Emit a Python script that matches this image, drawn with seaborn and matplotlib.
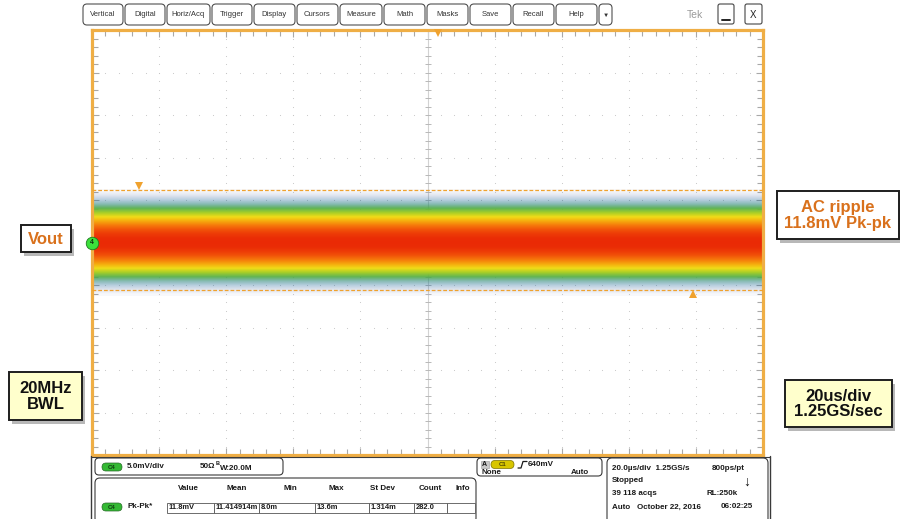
import numpy as np
import matplotlib
matplotlib.use("Agg")
import matplotlib.pyplot as plt
import seaborn as sns
import pandas as pd
from matplotlib.patches import FancyBboxPatch, Rectangle
from matplotlib.colors import LinearSegmentedColormap
from matplotlib import transforms

# ---- scope settings -------------------------------------------------------
time_per_div_us = 20.0
volts_per_div_mv = 5.0
n_div = 10

# ---- C4 persistence profile: relative hit density at each level (mV) -------
trace_level_mv = [-6.0, -5.5, -5.0, -4.5, -4.0, -3.5, -3.0, -2.5, -2.0, -1.5, -1.0, -0.5,
                  0.0, 0.5, 1.0, 1.5, 2.0, 2.5, 3.0, 3.5, 4.0, 4.5, 5.0, 5.5, 6.0]
trace_density = [0.01, 0.04, 0.09, 0.16, 0.26, 0.38, 0.52, 0.66, 0.78, 0.88, 0.95, 0.99,
                 1.00, 0.99, 0.95, 0.88, 0.78, 0.66, 0.52, 0.38, 0.26, 0.16, 0.09, 0.04, 0.01]

# ---- Pk-Pk measurement extremes -------------------------------------------
pk_level_mv = [6.2, -5.6]
pk_time_us = [-86.0, 79.0]
trigger_pos_us = 3.0

# ---- menu bar -------------------------------------------------------------
menu_labels = ["Vertical", "Digital", "Horiz/Acq", "Trigger", "Display", "Cursors",
               "Measure", "Math", "Masks", "Save", "Recall", "Help", "\u25BC"]
menu_edges = [(83, 123), (125, 165), (167, 210), (212, 252), (254, 295), (297, 338),
              (340, 382), (384, 425), (427, 468), (470, 511), (513, 554), (556, 597),
              (599, 612)]

# ---- measurement table ----------------------------------------------------
meas_headers = ["Value", "Mean", "Min", "Max", "St Dev", "Count", "Info"]
meas_values = ["11.8mV", "11.414914m", "8.0m", "13.6m", "1.314m", "282.0", ""]
meas_header_x = [188, 237, 290, 336, 383, 430, 463]
meas_cell_edges = [167, 214, 259, 315, 369, 414, 447, 475]

sns.set_theme(style="white")
plt.rcParams["font.family"] = ["Liberation Sans", "DejaVu Sans"]

W, H = 900, 519
fig = plt.figure(figsize=(W / 100, H / 100), dpi=100)
fig.patch.set_facecolor("white")

ORANGE = "#EFAE45"
MARK = "#F0A22E"
TICK = "#A8A8A8"

# ---- graticule axes -------------------------------------------------------
x0, y0, x1, y1 = 92, 30, 763, 455
ax = fig.add_axes([x0 / W, 1 - y1 / H, (x1 - x0) / W, (y1 - y0) / H])
tmax = time_per_div_us * n_div / 2
vmax = volts_per_div_mv * n_div / 2
ax.set_xlim(-tmax, tmax)
ax.set_ylim(-vmax, vmax)
ax.set_facecolor("white")
for s in ax.spines.values():
    s.set_color(ORANGE)
    s.set_linewidth(2.3)
    s.set_visible(True)

major_x = np.arange(-tmax, tmax + 0.1, time_per_div_us)
minor_x = np.arange(-tmax, tmax + 0.1, time_per_div_us / 5)
major_y = np.arange(-vmax, vmax + 0.1, volts_per_div_mv)
minor_y = np.arange(-vmax, vmax + 0.1, volts_per_div_mv / 5)
ax.set_xticks(major_x)
ax.set_xticks(minor_x, minor=True)
ax.set_yticks(major_y)
ax.set_yticks(minor_y, minor=True)
ax.tick_params(which="both", direction="in", top=True, right=True, bottom=True, left=True,
               color=TICK, width=0.8, labelbottom=False, labelleft=False)
ax.tick_params(which="major", length=5)
ax.tick_params(which="minor", length=4)

# dotted division lines
for gx in major_x[1:-1]:
    if abs(gx) < 1e-9:
        continue
    ax.scatter(np.full(len(minor_y), gx), minor_y, s=0.6, color="#C4C4C4", lw=0, zorder=1)
for gy in major_y[1:-1]:
    if abs(gy) < 1e-9:
        continue
    ax.scatter(minor_x, np.full(len(minor_x), gy), s=0.6, color="#C4C4C4", lw=0, zorder=1)

# centre cross with minor ticks
ax.axvline(0, color="#D2D2D2", lw=0.8, zorder=1)
ax.axhline(0, color="#D2D2D2", lw=0.8, zorder=1)
ax.scatter(np.zeros(len(minor_y)), minor_y, marker="_", s=18, color="#B8B8B8", lw=0.7, zorder=1)
ax.scatter(minor_x, np.zeros(len(minor_x)), marker="|", s=18, color="#B8B8B8", lw=0.7, zorder=1)

# persistence trace
tek = LinearSegmentedColormap.from_list(
    "tek_temp",
    [(0.0, "#1b2a80"), (0.10, "#1d6f9c"), (0.22, "#36a24c"), (0.36, "#9ccc2a"),
     (0.52, "#f0dc18"), (0.68, "#f7a20c"), (0.84, "#f4600a"), (1.0, "#ea2a05")])
dens = np.asarray(trace_density)
rgba = tek(dens)
rgba[:, 3] = np.clip(dens * 3.5, 0, 1)
img = np.repeat(rgba[:, None, :], 2, axis=1)
step = trace_level_mv[1] - trace_level_mv[0]
ax.imshow(img, extent=[-tmax, tmax, trace_level_mv[0] - step / 2, trace_level_mv[-1] + step / 2],
          origin="lower", aspect="auto", interpolation="bilinear", zorder=2)

# Pk-Pk level lines
pk_df = pd.DataFrame({
    "t_us": [-tmax, tmax, -tmax, tmax],
    "level_mv": [pk_level_mv[0], pk_level_mv[0], pk_level_mv[1], pk_level_mv[1]],
    "edge": ["max", "max", "min", "min"],
})
sns.lineplot(data=pk_df, x="t_us", y="level_mv", units="edge", estimator=None,
             color=MARK, lw=0.9, dashes=False, ax=ax, legend=False, zorder=3)
for line in ax.get_lines()[-2:]:
    line.set_dashes((3, 1.6))
ax.set_xlabel("")
ax.set_ylabel("")

up = transforms.offset_copy(ax.transData, fig=fig, x=0, y=4, units="dots")
dn = transforms.offset_copy(ax.transData, fig=fig, x=0, y=-4, units="dots")
ax.plot([pk_time_us[0]], [pk_level_mv[0]], marker="v", ms=6, color=MARK, mew=0,
        transform=up, clip_on=False, zorder=5)
ax.plot([pk_time_us[1]], [pk_level_mv[1]], marker="^", ms=6, color=MARK, mew=0,
        transform=dn, clip_on=False, zorder=5)
ax.plot([trigger_pos_us], [vmax], marker="v", ms=6, color=MARK, mew=0,
        transform=transforms.offset_copy(ax.transData, fig=fig, x=0, y=-2.5, units="dots"),
        clip_on=False, zorder=5)

# channel 4 ground marker
ax.plot([-tmax], [0], marker="o", ms=9, mfc="#3BE03B", mec="#1F7A1F", mew=0.6,
        clip_on=False, zorder=6)
ax.text(-tmax, 0, "4", ha="center", va="center", fontsize=5, color="#103010",
        fontweight="bold", zorder=7, clip_on=False)

# ---- screen furniture (pixel coordinates) ---------------------------------
ui = fig.add_axes([0, 0, 1, 1], zorder=10)
ui.set_xlim(0, W)
ui.set_ylim(H, 0)
ui.axis("off")
ui.patch.set_alpha(0)


def rbox(x, y, w, h, r=3, fc="white", ec="#505050", lw=0.8, z=1):
    ui.add_patch(FancyBboxPatch((x, y), w, h, boxstyle=f"round,pad=0,rounding_size={r}",
                                fc=fc, ec=ec, lw=lw, zorder=z))


for lab, (a, b) in zip(menu_labels, menu_edges):
    rbox(a, 4, b - a, 21, r=4)
    ui.text((a + b) / 2, 15, lab, ha="center", va="center", fontsize=5.5 if lab != "\u25BC" else 4.5,
            color="#333333", zorder=2)
ui.text(695, 15, "Tek", ha="center", va="center", fontsize=7.5, color="#9A9A9A")
rbox(718, 4, 16, 20, r=2, ec="#444444")
ui.plot([722, 730], [19.5, 19.5], color="#222222", lw=1.4)
rbox(745, 4, 17, 20, r=2, ec="#444444")
ui.text(753.5, 14.5, "X", ha="center", va="center", fontsize=7, color="#222222")


def callout(x, y, w, h, lines, fc, color):
    ui.add_patch(Rectangle((x + 3, y + 3.5), w, h, fc="#000000", alpha=0.28, lw=0, zorder=3))
    ui.add_patch(Rectangle((x, y), w, h, fc=fc, ec="#1E1E1E", lw=1.4, zorder=4))
    ui.text(x + w / 2, y + h / 2 + 0.5, lines, ha="center", va="center", fontsize=12,
            fontweight="bold", color=color, linespacing=1.05, zorder=5)


ORTXT = "#D9711C"
callout(21, 225, 50, 27, "Vout", "white", ORTXT)
callout(777, 191, 122, 48, "AC ripple\n11.8mV Pk-pk", "white", ORTXT)
callout(9, 372, 73, 48, "20MHz\nBWL", "#FFFFCC", "#111111")
callout(785, 380, 107, 47, "20us/div\n1.25GS/sec", "#FFFFCC", "#111111")

# ---- bottom readout panel -------------------------------------------------
ui.plot([91, 91], [456, H], color="#3A3A3A", lw=1)
ui.plot([91, 770], [456.5, 456.5], color="#3A3A3A", lw=0.8)
ui.plot([770, 770], [456, H], color="#3A3A3A", lw=1)


def pill(x, y, w, h, fc, label, tc):
    ui.add_patch(FancyBboxPatch((x, y), w, h, boxstyle=f"round,pad=0,rounding_size={h / 2}",
                                fc=fc, ec="#2A6A2A" if fc != "#D8C600" else "#7A7000",
                                lw=0.5, zorder=3))
    ui.text(x + w / 2, y + h / 2 + 0.3, label, ha="center", va="center", fontsize=4.3,
            color=tc, fontweight="bold", zorder=4)


bold6 = dict(fontsize=5.8, fontweight="bold", color="#1A1A1A", va="center", zorder=4)
cell6 = dict(fontsize=5.4, fontweight="bold", color="#1A1A1A", va="center", zorder=4)

rbox(95, 458, 188, 17, r=4, ec="#3A3A3A", z=2)
pill(102, 463, 20, 8, "#34B934", "C4", "#0F3A0F")
ui.text(127, 467, "5.0mV/div", ha="left", **bold6)
ui.text(200, 467, "50\u03A9", ha="left", **bold6)
ui.text(216, 463.5, "B", ha="left", fontsize=4, fontweight="bold", color="#1A1A1A", va="center")
ui.text(220, 468, "W:20.0M", ha="left", **bold6)

rbox(95, 478, 381, 45, r=5, ec="#3A3A3A", z=2)
for hx, hd in zip(meas_header_x, meas_headers):
    ui.text(hx, 488, hd, ha="center", **bold6)
pill(102, 503, 20, 8, "#34B934", "C4", "#0F3A0F")
ui.text(127, 507, "Pk-Pk*", ha="left", **bold6)
for i, val in enumerate(meas_values):
    a, b = meas_cell_edges[i], meas_cell_edges[i + 1]
    ui.add_patch(Rectangle((a, 502.5), b - a, 10, fc="white", ec="#555555", lw=0.6, zorder=3))
    ui.text(a + 1.5, 507.5, val, ha="left", **cell6)

rbox(477, 458, 125, 18, r=4, ec="#3A3A3A", z=2)
ui.add_patch(Rectangle((481, 460.5), 7.5, 7.5, fc="#C9C9C9", ec="#9A9A9A", lw=0.4, zorder=3))
ui.text(484.75, 464.4, "A", ha="center", fontsize=5, fontweight="bold", color="#1A1A1A",
        va="center", zorder=4)
pill(491, 460.5, 23, 8, "#D8C600", "C1", "#4A4400")
ui.plot([518, 521, 523, 527], [468, 468, 461.5, 461.5], color="#1A1A1A", lw=0.9, zorder=4)
ui.text(528, 464.5, "640mV", ha="left", **bold6)
ui.text(482, 472.3, "None", ha="left", **bold6)
ui.text(589, 472.3, "Auto", ha="right", **bold6)

rbox(607, 458, 161, 70, r=5, ec="#3A3A3A", z=2)
ui.text(612, 468, "20.0\u00B5s/div  1.25GS/s", ha="left", **bold6)
ui.text(745, 468, "800ps/pt", ha="right", **bold6)
ui.text(612, 480.5, "Stopped", ha="left", **bold6)
ui.text(747, 482, "\u2193", ha="center", fontsize=10, fontweight="bold", color="#111111",
        va="center", zorder=4)
ui.text(612, 493.5, "39 118 acqs", ha="left", **bold6)
ui.text(738, 493.5, "RL:250k", ha="right", **bold6)
ui.text(612, 507, "Auto   October 22, 2016", ha="left", **bold6)
ui.text(753, 507, "06:02:25", ha="right", **bold6)

fig.savefig("out.png", dpi=100, facecolor="white")
